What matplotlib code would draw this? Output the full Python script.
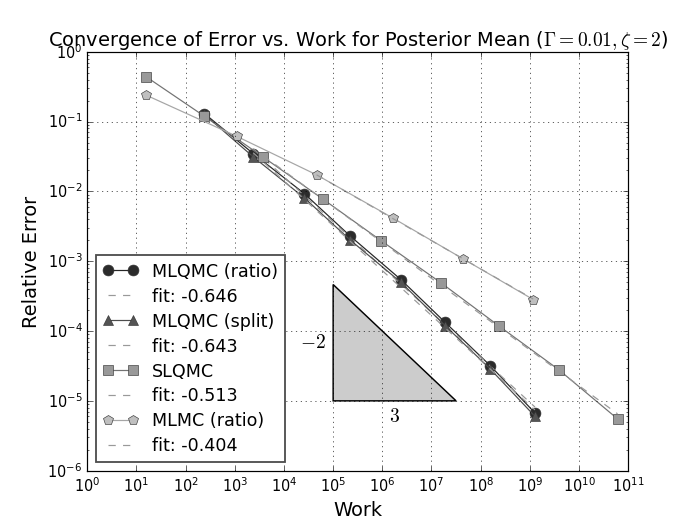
import numpy as np
import matplotlib
matplotlib.use('Agg')
import matplotlib.pyplot as plt

plt.style.use('classic')

# work / relative error
work_mlqmc = [241, 2371, 25880, 2.25e5, 2.38e6, 1.88e7, 1.56e8, 1.27e9]
err_mlqmc_ratio = [0.1306, 0.0349, 0.00933, 0.00228, 5.47e-4, 1.34e-4, 3.2e-5, 6.7e-6]
err_mlqmc_split = [0.127, 0.0313, 0.0081, 0.0020, 5.0e-4, 1.2e-4, 2.87e-5, 6.0e-6]

work_slqmc = [15.9, 241, 3830, 6.1e4, 9.55e5, 1.56e7, 2.4e8, 3.83e9, 6.07e10]
err_slqmc = [0.438, 0.1195, 0.0309, 0.00783, 0.00196, 4.91e-4, 1.17e-4, 2.81e-5, 5.52e-6]

work_mlmc = [15.9, 1087, 4.61e4, 1.67e6, 4.42e7, 1.17e9]
err_mlmc = [0.239, 0.0618, 0.0173, 0.00413, 0.00108, 2.83e-4]

fit_slopes = [-0.646, -0.643, -0.513, -0.404]
fit_start = [1, 1, 2, 2]   # first point used by each fit

series = [
    ('MLQMC (ratio)', work_mlqmc, err_mlqmc_ratio, 'o', '0.17', '0.15'),
    ('MLQMC (split)', work_mlqmc, err_mlqmc_split, '^', '0.33', '0.3'),
    ('SLQMC', work_slqmc, err_slqmc, 's', '0.6', '0.45'),
    ('MLMC (ratio)', work_mlmc, err_mlmc, 'p', '0.75', '0.65'),
]

fig = plt.figure(figsize=(8, 6), dpi=87.25)
ax = fig.add_subplot(111)

for (name, w, e, mk, fc, lc), slope, i0 in zip(series, fit_slopes, fit_start):
    w = np.array(w)
    e = np.array(e)
    ax.loglog(w, e, marker=mk, color=lc, markerfacecolor=fc,
              markeredgecolor='0.2', markersize=9, linewidth=1, label=name)
    wf = w[i0:]
    c = np.mean(np.log10(e[i0:]) - slope * np.log10(wf))
    ax.loglog(wf, 10**c * wf**slope, '--', color='0.6', linewidth=1,
              label='fit: %.3f' % slope)

# slope triangle
tx = [1e5, 10**7.5, 1e5]
ty = [1e-5, 1e-5, 1e-5 * 10**(2.5 * 2 / 3)]
ax.fill(tx, ty, facecolor='0.8', edgecolor='k', linewidth=1.2)
ax.text(10**4.58, 10**-4.16, r'$-2$', fontsize=16, ha='center', va='center')
ax.text(10**6.25, 10**-5.22, r'$3$', fontsize=16, ha='center', va='center')

ax.set_xlim(1, 1e11)
ax.set_ylim(1e-6, 1)
ax.grid(True)
ax.set_xlabel('Work', fontsize=16)
ax.set_ylabel('Relative Error', fontsize=16)
ax.set_title(r'Convergence of Error vs. Work for Posterior Mean ($\Gamma=0.01,\zeta=2$)',
             fontsize=16)
leg = ax.legend(loc='lower left', fontsize=14.4, labelspacing=0.4)
leg.get_frame().set_edgecolor('0.3')
leg.get_frame().set_linewidth(1.5)

fig.savefig('out.png', dpi=87.25)
